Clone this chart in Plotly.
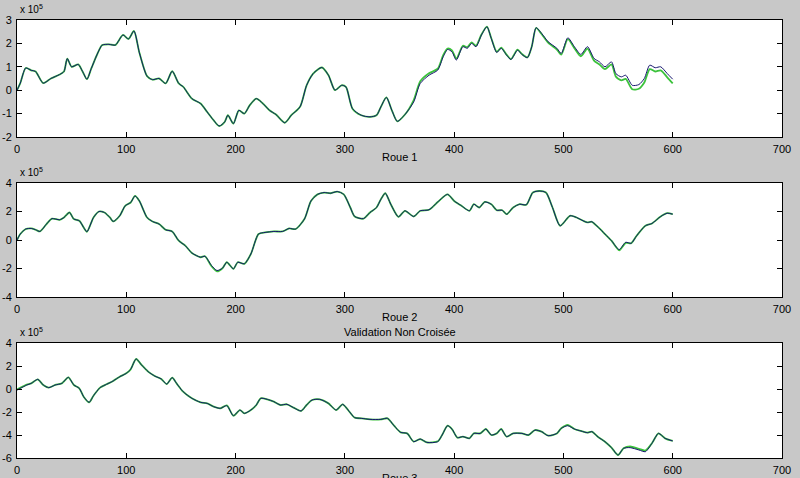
import plotly.graph_objects as go

# ---------------- data (values in units of 1e5) ----------------
x1 = [0,3,8,13,17,24,31,39,43,46,50,56,60,64,68,74,78,84,90,97,102,107,112,119,124,
      130,136,142,148,152,160,168,174,180,185,190,193,198,203,208,213,219,225,231,237,
      245,251,259,265,271,279,285,291,297,301,307,315,323,329,333,338,343,348,355,363,
      369,377,385,390,394,398,402,408,412,416,420,425,430,434,439,443,448,452,458,462,
      467,471,475,480,486,494,498,504,510,516,522,528,533,538,544,548,553,557,563,569,
      574,579,584,589,595,600]
blue1 = [0.0,0.3,0.95,0.85,0.8,0.3,0.5,0.67,0.8,1.35,1.0,1.1,0.8,0.47,0.93,1.6,1.93,1.96,1.93,2.36,
         2.19,2.53,1.6,0.6,0.45,0.5,0.29,0.81,0.29,0.15,-0.36,-0.57,-0.93,-1.29,-1.53,-1.36,-1.07,-1.43,-0.86,-1.0,
         -0.64,-0.36,-0.57,-0.86,-1.04,-1.39,-1.07,-0.71,0.21,0.71,0.97,0.64,0.0,0.21,0.14,-0.79,-1.07,-1.14,-1.07,-0.71,
         -0.31,-0.86,-1.33,-1.04,-0.5,0.29,0.64,0.86,1.43,1.74,1.64,1.29,1.86,1.79,2.0,1.86,2.36,2.71,2.21,1.61,
         1.79,1.5,1.31,1.71,1.53,1.39,1.86,2.67,2.43,2.07,1.79,1.57,2.24,1.86,1.53,1.86,1.36,1.21,1.0,1.21,
         0.71,0.57,0.64,0.21,0.24,0.5,1.07,0.96,1.0,0.71,0.47]
green1 = [0.0,0.3,0.95,0.85,0.8,0.3,0.5,0.67,0.8,1.35,1.0,1.1,0.8,0.47,0.93,1.6,1.93,1.96,1.93,2.36,
          2.19,2.53,1.6,0.6,0.45,0.5,0.29,0.81,0.29,0.15,-0.36,-0.57,-0.93,-1.29,-1.53,-1.36,-1.07,-1.43,-0.86,-1.0,
          -0.64,-0.36,-0.57,-0.86,-1.04,-1.39,-1.07,-0.71,0.21,0.71,0.97,0.64,0.0,0.21,0.14,-0.79,-1.07,-1.14,-1.07,-0.71,
          -0.31,-0.86,-1.33,-1.04,-0.42,0.38,0.72,0.92,1.5,1.78,1.7,1.35,1.9,1.84,2.04,1.9,2.38,2.72,2.22,1.64,
          1.82,1.52,1.33,1.73,1.55,1.4,1.86,2.66,2.4,2.03,1.74,1.52,2.18,1.8,1.45,1.78,1.26,1.1,0.9,1.1,
          0.58,0.42,0.48,0.04,0.06,0.33,0.9,0.8,0.85,0.55,0.29]

x2 = [0,3,8,13,17,21,27,32,39,43,48,52,57,61,64,70,75,80,85,88,94,99,104,108,112,119,124,130,136,142,
      148,154,160,168,172,178,183,188,192,198,202,208,214,221,227,235,243,249,255,263,269,275,281,287,293,
      299,305,309,317,323,329,333,337,342,349,355,363,369,377,385,394,400,406,414,418,423,428,434,439,444,
      448,454,460,466,472,478,484,490,497,506,512,518,522,526,532,538,544,551,557,562,567,575,581,589,595,600]
blue2 = [0,0.42,0.77,0.81,0.72,0.6,1.12,1.5,1.42,1.58,1.93,1.47,1.35,0.88,0.58,1.58,2.0,1.93,1.58,1.3,
         1.7,2.4,2.63,3.09,2.74,1.58,1.3,1.12,0.72,0.6,-0.05,-0.4,-0.91,-1.21,-1.14,-1.79,-2.14,-1.98,-1.56,-2.02,
         -1.56,-1.67,-0.98,0.42,0.53,0.6,0.6,0.81,0.77,1.47,2.74,3.2,3.33,3.28,3.4,3.2,2.28,1.65,1.5,1.93,
         2.28,2.86,3.28,2.51,1.63,2.05,1.65,2.05,2.12,2.67,3.2,2.74,2.44,2.05,2.51,2.28,2.67,2.51,2.09,2.09,
         1.81,2.28,2.51,2.47,3.33,3.44,3.33,2.28,1.0,1.7,1.58,1.35,1.23,1.28,0.88,0.42,-0.05,-0.67,-0.16,-0.23,
         0.3,1.0,1.16,1.65,1.88,1.81]
green2 = [0,0.42,0.77,0.81,0.72,0.6,1.12,1.5,1.42,1.58,1.93,1.47,1.35,0.88,0.58,1.58,2.0,1.93,1.58,1.3,
          1.7,2.4,2.63,3.1,2.74,1.58,1.3,1.12,0.72,0.6,-0.05,-0.4,-0.91,-1.21,-1.14,-1.84,-2.2,-1.98,-1.56,-2.02,
          -1.56,-1.67,-0.98,0.42,0.53,0.6,0.6,0.81,0.77,1.47,2.74,3.2,3.33,3.28,3.4,3.2,2.28,1.65,1.5,1.93,
          2.28,2.86,3.28,2.51,1.63,2.05,1.65,2.05,2.12,2.67,3.2,2.74,2.44,2.05,2.51,2.28,2.67,2.51,2.09,2.09,
          1.81,2.28,2.51,2.47,3.33,3.44,3.33,2.28,1.0,1.7,1.58,1.35,1.23,1.28,0.88,0.42,-0.05,-0.72,-0.2,-0.23,
          0.3,1.0,1.16,1.65,1.88,1.81]

x3 = [0,3,9,13,19,24,29,35,41,47,52,57,61,66,70,76,82,88,94,100,104,109,114,120,126,132,137,142,146,152,
      160,168,174,180,186,192,198,204,208,214,219,223,229,235,241,247,253,260,265,270,277,285,292,298,303,
      309,315,323,333,339,345,351,357,363,369,375,385,389,394,398,403,408,414,418,424,429,434,439,443,448,
      454,462,468,474,480,486,494,498,504,510,516,522,526,532,538,544,550,555,561,569,575,581,587,593,600]
blue3 = [-0.09,0.06,0.35,0.49,0.84,0.35,0.12,0.35,0.49,1.01,0.35,0.06,-0.67,-1.16,-0.58,0.12,0.41,0.7,1.07,1.36,
         1.71,2.61,2.09,1.51,1.13,0.87,0.43,0.99,0.49,-0.23,-0.81,-1.16,-1.25,-1.54,-1.68,-1.45,-2.32,-1.83,-2.12,-1.83,
         -1.39,-0.81,-0.9,-1.1,-1.39,-1.33,-1.62,-1.91,-1.39,-0.96,-0.9,-1.25,-1.83,-1.33,-1.83,-2.49,-2.55,-2.64,-2.64,-2.55,
         -3.19,-3.77,-3.86,-4.58,-4.35,-4.64,-4.58,-4.0,-3.19,-3.48,-4.23,-4.14,-4.29,-3.86,-3.86,-3.48,-4.0,-3.86,-3.48,-4.14,
         -3.86,-3.86,-4.0,-3.57,-3.71,-4.06,-3.86,-3.42,-3.19,-3.48,-3.65,-3.8,-3.71,-4.2,-4.58,-5.1,-5.74,-5.16,-5.1,-5.3,
         -5.45,-4.72,-3.86,-4.29,-4.52]
green3 = [-0.05,0.1,0.38,0.49,0.84,0.35,0.12,0.35,0.49,1.01,0.35,0.06,-0.67,-1.16,-0.58,0.12,0.41,0.7,1.07,1.36,
          1.71,2.61,2.09,1.51,1.13,0.87,0.43,0.99,0.49,-0.23,-0.81,-1.16,-1.25,-1.54,-1.68,-1.42,-2.32,-1.83,-2.12,-1.83,
          -1.39,-0.81,-0.9,-1.1,-1.39,-1.33,-1.62,-1.91,-1.39,-0.96,-0.9,-1.25,-1.83,-1.33,-1.83,-2.49,-2.55,-2.64,-2.64,-2.55,
          -3.19,-3.77,-3.86,-4.58,-4.35,-4.64,-4.55,-4.0,-3.19,-3.48,-4.23,-4.14,-4.29,-3.86,-3.86,-3.48,-4.0,-3.86,-3.48,-4.14,
          -3.86,-3.86,-4.0,-3.57,-3.71,-4.06,-3.86,-3.42,-3.13,-3.48,-3.65,-3.8,-3.71,-4.2,-4.58,-5.1,-5.74,-5.16,-5.0,-5.2,
          -5.35,-4.72,-3.86,-4.29,-4.52]

x_ticks = [0, 100, 200, 300, 400, 500, 600, 700]
y1_ticks = [-2, -1, 0, 1, 2, 3]
y2_ticks = [-4, -2, 0, 2, 4]
y3_ticks = [-6, -4, -2, 0, 2, 4]
x_labels = ["Roue 1", "Roue 2", "Roue 3"]
title3 = "Validation Non Croisée"

# ---------------- figure ----------------
W, H = 800, 478
BLUE = "#16166e"
GREEN = "#3cc23c"
FONT = "Liberation Sans, Arial, sans-serif"

fig = go.Figure()

panels = [
    (x1, blue1, green1, y1_ticks, (20, 137), ""),
    (x2, blue2, green2, y2_ticks, (183, 297), "2"),
    (x3, blue3, green3, y3_ticks, (343, 458), "3"),
]

xl, xr = 17, 782
for i, (xs, b, g, yt, (top, bot), sfx) in enumerate(panels):
    fig.add_trace(go.Scatter(x=xs, y=g, mode="lines", line=dict(color=GREEN, width=1.8, shape="spline", smoothing=0.7),
                             xaxis="x" + sfx, yaxis="y" + sfx, showlegend=False, hoverinfo="skip"))
    fig.add_trace(go.Scatter(x=xs, y=b, mode="lines", line=dict(color=BLUE, width=1.0, shape="spline", smoothing=0.7),
                             xaxis="x" + sfx, yaxis="y" + sfx, showlegend=False, hoverinfo="skip"))
    common = dict(ticks="inside", ticklen=5, tickcolor="black", showline=True, linecolor="black",
                  linewidth=1, mirror="allticks", showgrid=False, zeroline=False, automargin=False,
                  tickfont=dict(size=11, color="black", family=FONT))
    fig.layout["xaxis" + sfx] = dict(domain=[xl / W, xr / W], range=[0, 700], tickvals=x_ticks,
                                     ticktext=[str(v) for v in x_ticks], anchor="y" + sfx, ticklabelstandoff=2, **common)
    fig.layout["yaxis" + sfx] = dict(domain=[1 - bot / H, 1 - top / H], range=[yt[0], yt[-1]], tickvals=yt,
                                     ticktext=[str(v) for v in yt], anchor="x" + sfx, ticklabelstandoff=2, **common)
    fig.add_annotation(text=x_labels[i], x=(xl + xr) / 2 / W, y=1 - (bot + 20) / H, xref="paper", yref="paper",
                       showarrow=False, xanchor="center", yanchor="middle",
                       font=dict(size=11, color="black", family=FONT))
    fig.add_annotation(text="x 10<sup>5</sup>", x=(xl + 1) / W, y=1 - (top - 3) / H, xref="paper", yref="paper",
                       showarrow=False, xanchor="left", yanchor="bottom",
                       font=dict(size=10, color="black", family=FONT))

fig.add_annotation(text=title3, x=(xl + xr) / 2 / W, y=1 - 332 / H, xref="paper", yref="paper",
                   showarrow=False, xanchor="center", yanchor="middle",
                   font=dict(size=11, color="black", family=FONT))

fig.update_layout(width=W, height=H, margin=dict(l=0, r=0, t=0, b=0),
                  paper_bgcolor="#c8c8c8", plot_bgcolor="white",
                  font=dict(family=FONT, size=11, color="black"))

fig.write_html("out.html", config={"displayModeBar": False},
               post_script="document.body.style.margin='0';document.body.style.overflow='hidden';")
